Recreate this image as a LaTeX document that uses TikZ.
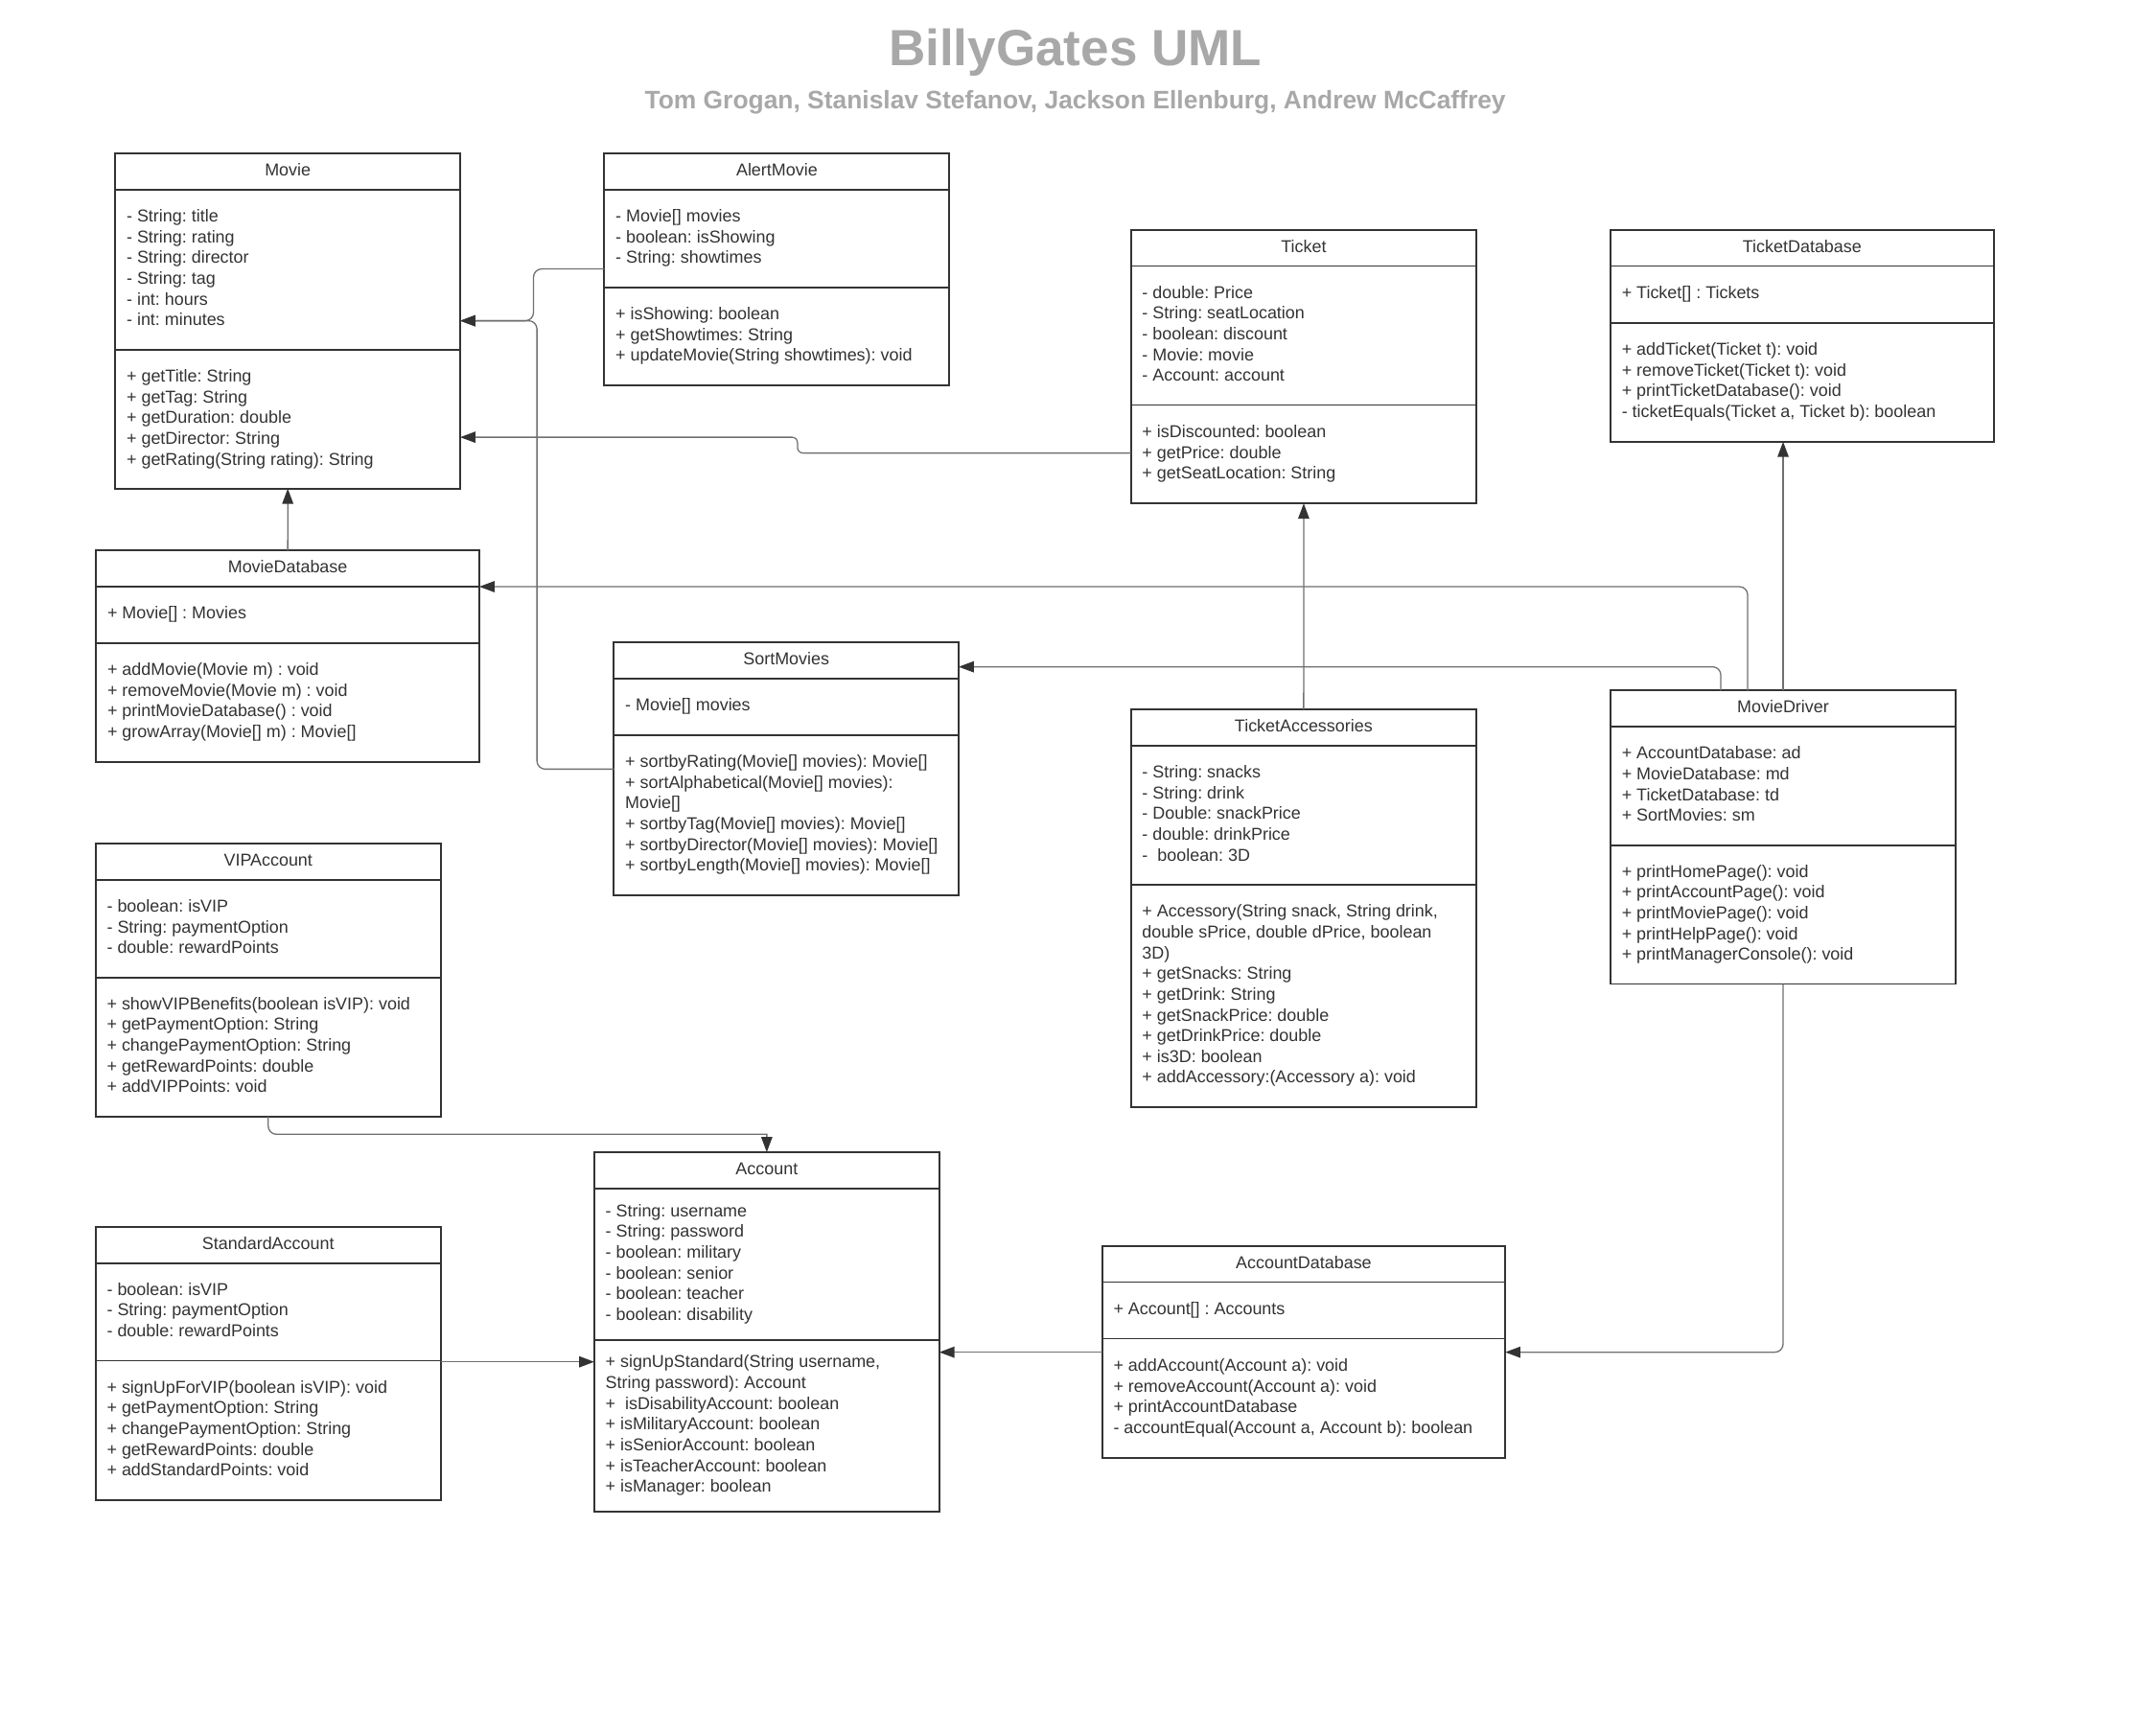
\documentclass[tikz,border=0pt]{standalone}
\usepackage{fontspec}
\setmainfont{Liberation Sans}
\usetikzlibrary{arrows.meta}
\frenchspacing
\definecolor{boxc}{RGB}{51,51,51}
\definecolor{connc}{RGB}{112,112,112}
\definecolor{titlec}{RGB}{168,168,168}
\newcommand{\mlines}[1]{\begin{tabular}{@{}l@{}}#1\end{tabular}}
\newcommand{\umlbox}[8]{%
  \node[classbox, minimum width=#4, minimum height=#7-#3, anchor=north west] (#1) at (#2,#3) {};
  \draw[classline] (#2,#5) -- ++(#4,0);
  \draw[classline] (#2,#6) -- ++(#4,0);
  \node[classtitle] (#1-t) at ({#2+#4/2},{#3+16.3}) {#8};
  \coordinate (#1-a0) at ({#2+8},{(#5+#6)/2});
  \coordinate (#1-m0) at ({#2+8},{(#6+#7)/2});
}
\tikzset{
  classbox/.style={rectangle, draw=boxc, line width=1.3pt, fill=white, inner sep=0pt, outer sep=0pt},
  classline/.style={draw=boxc, line width=1.3pt},
  classtitle/.style={font=\fontsize{12.5}{15.1}\selectfont\frenchspacing, text=boxc, inner sep=0pt, anchor=base},
  members/.style={font=\fontsize{12.5}{15.1}\selectfont\frenchspacing, text=boxc, inner sep=0pt, anchor=west},
  conn/.style={draw=connc, line width=0.9pt, -{Triangle[length=11pt,width=8pt,color=boxc]}},
  rc/.style={rounded corners=6pt}
}
\begin{document}
\begin{tikzpicture}[x=1pt,y=-1pt]
\fill[white] (0,0) rectangle (1568,1244.5);
\useasboundingbox (0,0) rectangle (1568,1244.5);

\node[font=\fontsize{37}{44}\selectfont\bfseries, text=titlec, inner sep=0pt, anchor=base] (title) at (782,48) {BillyGates UML};
\node[font=\fontsize{18.4}{22}\selectfont\bfseries, text=titlec, inner sep=0pt, anchor=base] (subtitle) at (782,79.2) {Tom Grogan, Stanislav Stefanov, Jackson Ellenburg, Andrew McCaffrey};

% Movie
\umlbox{movie}{83.9}{111.3}{250.8}{137.9}{254.5}{355.4}{Movie}
\node[members] (movie-a) at (movie-a0) {\mlines{- String: title\\- String: rating\\- String: director\\- String: tag\\- int: hours\\- int: minutes}};
\node[members] (movie-m) at (movie-m0) {\mlines{+ getTitle: String\\+ getTag: String\\+ getDuration: double\\+ getDirector: String\\+ getRating(String rating): String}};

% AlertMovie
\umlbox{alertmovie}{439.5}{111.5}{251}{138}{209.1}{280}{AlertMovie}
\node[members] (alertmovie-a) at (alertmovie-a0) {\mlines{- Movie[] movies\\- boolean: isShowing\\- String: showtimes}};
\node[members] (alertmovie-m) at (alertmovie-m0) {\mlines{+ isShowing: boolean\\+ getShowtimes: String\\+ updateMovie(String showtimes): void}};

% Ticket
\umlbox{ticket}{822.5}{167.1}{251.3}{193.5}{294.6}{366.2}{Ticket}
\node[members] (ticket-a) at (ticket-a0) {\mlines{- double: Price\\- String: seatLocation\\- boolean: discount\\- Movie: movie\\- Account: account}};
\node[members] (ticket-m) at (ticket-m0) {\mlines{+ isDiscounted: boolean\\+ getPrice: double\\+ getSeatLocation: String}};

% TicketDatabase
\umlbox{ticketdb}{1171.3}{167.1}{278.7}{193.5}{234.8}{321.3}{TicketDatabase}
\node[members] (ticketdb-a) at (ticketdb-a0) {\mlines{+ Ticket[] : Tickets}};
\node[members] (ticketdb-m) at (ticketdb-m0) {\mlines{+ addTicket(Ticket t): void\\+ removeTicket(Ticket t): void\\+ printTicketDatabase(): void\\- ticketEquals(Ticket a, Ticket b): boolean}};

% MovieDatabase
\umlbox{moviedb}{69.9}{400.2}{278.7}{426.7}{467.8}{554}{MovieDatabase}
\node[members] (moviedb-a) at (moviedb-a0) {\mlines{+ Movie[] : Movies}};
\node[members] (moviedb-m) at (moviedb-m0) {\mlines{+ addMovie(Movie m) : void\\+ removeMovie(Movie m) : void\\+ printMovieDatabase() : void\\+ growArray(Movie[] m) : Movie[]}};

% SortMovies
\umlbox{sortmovies}{446.5}{466.9}{250.7}{493.4}{534.5}{651}{SortMovies}
\node[members] (sortmovies-a) at (sortmovies-a0) {\mlines{- Movie[] movies}};
\node[members] (sortmovies-m) at (sortmovies-m0) {\mlines{+ sortbyRating(Movie[] movies): Movie[]\\+ sortAlphabetical(Movie[] movies):\\Movie[]\\+ sortbyTag(Movie[] movies): Movie[]\\+ sortbyDirector(Movie[] movies): Movie[]\\+ sortbyLength(Movie[] movies): Movie[]}};

% TicketAccessories
\umlbox{ticketacc}{822.5}{515.8}{251.2}{542.4}{643.5}{805.3}{TicketAccessories}
\node[members] (ticketacc-a) at (ticketacc-a0) {\mlines{- String: snacks\\- String: drink\\- Double: snackPrice\\- double: drinkPrice\\- \ boolean: 3D}};
\node[members] (ticketacc-m) at (ticketacc-m0) {\mlines{+ Accessory(String snack, String drink,\\double sPrice, double dPrice, boolean\\3D)\\+ getSnacks: String\\+ getDrink: String\\+ getSnackPrice: double\\+ getDrinkPrice: double\\+ is3D: boolean\\+ addAccessory:(Accessory a): void}};

% MovieDriver
\umlbox{moviedriver}{1171.3}{502.2}{251}{528.5}{614.9}{715.7}{MovieDriver}
\node[members] (moviedriver-a) at (moviedriver-a0) {\mlines{+ AccountDatabase: ad\\+ MovieDatabase: md\\+ TicketDatabase: td\\+ SortMovies: sm}};
\node[members] (moviedriver-m) at (moviedriver-m0) {\mlines{+ printHomePage(): void\\+ printAccountPage(): void\\+ printMoviePage(): void\\+ printHelpPage(): void\\+ printManagerConsole(): void}};

% VIPAccount
\umlbox{vipacc}{69.6}{613.6}{250.9}{639.9}{710.9}{812.1}{VIPAccount}
\node[members] (vipacc-a) at (vipacc-a0) {\mlines{- boolean: isVIP\\- String: paymentOption\\- double: rewardPoints}};
\node[members] (vipacc-m) at (vipacc-m0) {\mlines{+ showVIPBenefits(boolean isVIP): void\\+ getPaymentOption: String\\+ changePaymentOption: String\\+ getRewardPoints: double\\+ addVIPPoints: void}};

% Account
\umlbox{account}{432.2}{838}{250.9}{864.3}{974.7}{1099.5}{Account}
\node[members] (account-a) at (account-a0) {\mlines{- String: username\\- String: password\\- boolean: military\\- boolean: senior\\- boolean: teacher\\- boolean: disability}};
\node[members] (account-m) at (account-m0) {\mlines{+ signUpStandard(String username,\\String password): Account\\+ \ isDisabilityAccount: boolean\\+ isMilitaryAccount: boolean\\+ isSeniorAccount: boolean\\+ isTeacherAccount: boolean\\+ isManager: boolean}};

% StandardAccount
\umlbox{standardacc}{69.6}{892.4}{250.9}{918.7}{989.7}{1090.9}{StandardAccount}
\node[members] (standardacc-a) at (standardacc-a0) {\mlines{- boolean: isVIP\\- String: paymentOption\\- double: rewardPoints}};
\node[members] (standardacc-m) at (standardacc-m0) {\mlines{+ signUpForVIP(boolean isVIP): void\\+ getPaymentOption: String\\+ changePaymentOption: String\\+ getRewardPoints: double\\+ addStandardPoints: void}};

% AccountDatabase
\umlbox{accountdb}{801.6}{906.4}{293.1}{932.5}{973.6}{1060.3}{AccountDatabase}
\node[members] (accountdb-a) at (accountdb-a0) {\mlines{+ Account[] : Accounts}};
\node[members] (accountdb-m) at (accountdb-m0) {\mlines{+ addAccount(Account a): void\\+ removeAccount(Account a): void\\+ printAccountDatabase\\- accountEqual(Account a, Account b): boolean}};

% connectors
\draw[conn, rc] (alertmovie.west |- 0,195.6) -- (388,195.6) -- (388,233.3) -- (movie.east |- 0,233.3);
\draw[conn, rc] (sortmovies.west |- 0,559.4) -- (390.5,559.4) -- (390.5,233.3) -- (movie.east |- 0,233.3);
\draw[conn, rounded corners=4pt] (ticket.west |- 0,329.5) -- (580,329.5) -- (580,318) -- (movie.east |- 0,318);
\draw[conn] (moviedb.north) -- (movie.south);
\draw[conn, rc] (moviedriver.north -| 1271,0) -- (1271,426.7) -- (moviedb.east |- 0,426.7);
\draw[conn, rc] (moviedriver.north -| 1251.5,0) -- (1251.5,485) -- (sortmovies.east |- 0,485);
\draw[conn] (moviedriver.north) -- (moviedriver.north |- ticketdb.south);
\draw[conn] (ticketacc.north) -- (ticket.south);
\draw[conn, rc] (moviedriver.south) -- (moviedriver.south |- 0,983.5) -- (accountdb.east |- 0,983.5);
\draw[conn] (accountdb.west |- 0,983.5) -- (account.east |- 0,983.5);
\draw[conn] (standardacc.east |- 0,990.5) -- (account.west |- 0,990.5);
\draw[conn] (vipacc.south) [rounded corners=6pt] -- (vipacc.south |- 0,825) [sharp corners] -- (account.north |- 0,825) -- (account.north);
\end{tikzpicture}
\end{document}
